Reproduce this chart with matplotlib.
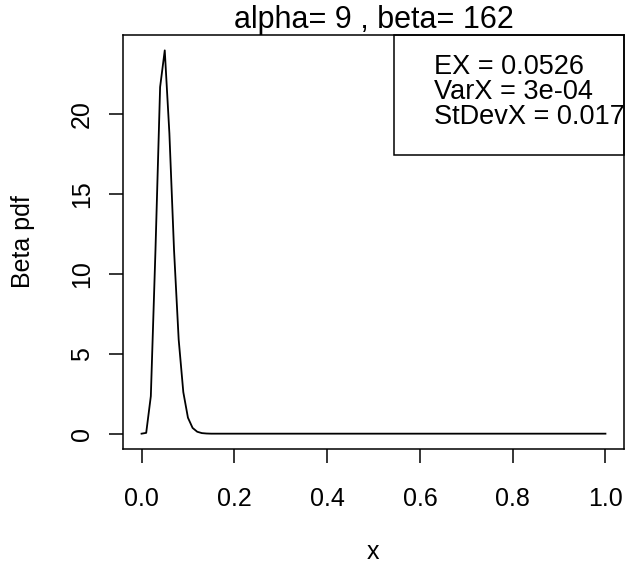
import matplotlib
matplotlib.use("Agg")
import matplotlib.pyplot as plt
from matplotlib.patches import Rectangle

plt.rcParams['font.family'] = ['Liberation Sans', 'DejaVu Sans']

# data
x_vals = [0.00, 0.01, 0.02, 0.03, 0.04, 0.05, 0.06, 0.07, 0.08, 0.09,
          0.10, 0.11, 0.12, 0.13, 0.14, 0.15, 1.00]
pdf_vals = [0.00, 0.05, 2.35, 11.5, 21.7, 24.0, 18.8, 11.5, 5.9, 2.6,
            1.0, 0.36, 0.12, 0.035, 0.01, 0.0, 0.0]
x_ticks = [0.0, 0.2, 0.4, 0.6, 0.8, 1.0]
x_tick_labels = ["0.0", "0.2", "0.4", "0.6", "0.8", "1.0"]
y_ticks = [0, 5, 10, 15, 20]
y_tick_labels = ["0", "5", "10", "15", "20"]
title_text = "alpha= 9 , beta= 162"
legend_lines = ["EX = 0.0526", "VarX = 3e-04", "StDevX = 0.017"]

W, H = 637, 571
fig = plt.figure(figsize=(W / 100, H / 100), dpi=100)
L, R, T, B = 123, 624, 35, 449
ax = fig.add_axes([L / W, 1 - B / H, (R - L) / W, (B - T) / H])

ax.plot(x_vals, pdf_vals, color='black', lw=1.3)
ax.margins(x=0.04, y=0.04)

for s in ax.spines.values():
    s.set_linewidth(1.1)
    s.set_color('black')

ax.set_xticks(x_ticks)
ax.set_xticklabels(x_tick_labels)
ax.set_yticks(y_ticks)
ax.set_yticklabels(y_tick_labels, rotation=90, va='center')
ax.tick_params(axis='both', direction='out', length=10, width=1.1,
               labelsize=18, colors='black')
ax.tick_params(axis='x', pad=17)
ax.tick_params(axis='y', pad=11)

ax.set_title(title_text, fontsize=22, pad=2)

# legend box (top right)
lx0 = (394 - L) / (R - L)
ly0 = (B - 155) / (B - T)
ax.add_patch(Rectangle((lx0, ly0), 1 - lx0, 1 - ly0, transform=ax.transAxes,
                       fill=False, edgecolor='black', lw=1.1, clip_on=False))
tx = (434 - L) / (R - L)
row_px = [67, 92, 117]
for line, rp in zip(legend_lines, row_px):
    ax.text(tx, (B - rp) / (B - T), line, transform=ax.transAxes,
            fontsize=19.5, ha='left', va='center')

fig.text(373 / W, 1 - 552 / H, "x", fontsize=18, ha='center', va='center')
fig.text(23 / W, 1 - 242 / H, "Beta pdf", fontsize=18, ha='center',
         va='center', rotation=90)

fig.savefig("out.png", dpi=100)
